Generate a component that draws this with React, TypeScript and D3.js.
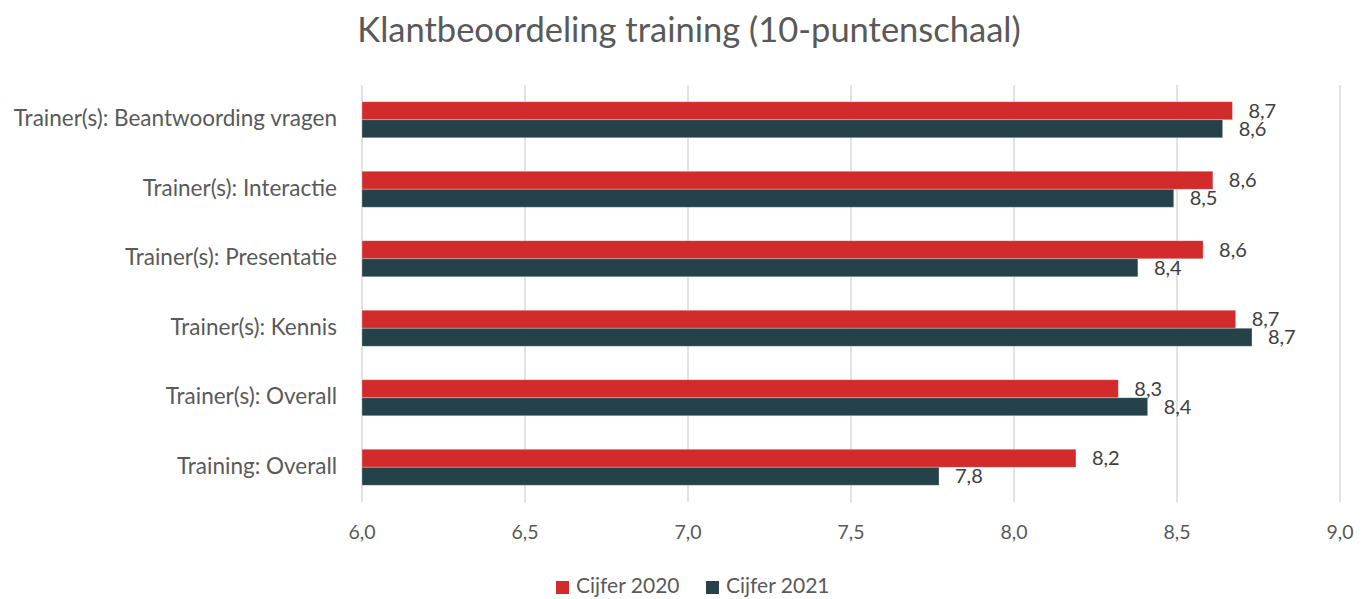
import React from "react";
import * as d3 from "d3";

const categories = [
  "Trainer(s): Beantwoording vragen",
  "Trainer(s): Interactie",
  "Trainer(s): Presentatie",
  "Trainer(s): Kennis",
  "Trainer(s): Overall",
  "Training: Overall",
];
const cijfer2020 = [8.67, 8.61, 8.58, 8.68, 8.32, 8.19];
const cijfer2021 = [8.64, 8.49, 8.38, 8.73, 8.41, 7.77];
const xTicks = [6.0, 6.5, 7.0, 7.5, 8.0, 8.5, 9.0];
const seriesNames = ["Cijfer 2020", "Cijfer 2021"];
const seriesColors = ["#D12B2B", "#25424A"];

const width = 1372;
const height = 599;
const margin = { top: 85, right: 32, bottom: 97, left: 362 };
const font = "Lato, 'Open Sans', sans-serif";
const fmt = (v: number) => v.toFixed(1).replace(".", ",");

export default function App() {
  const x = d3
    .scaleLinear()
    .domain([6, 9])
    .range([margin.left, width - margin.right]);

  const y = d3
    .scaleBand()
    .domain(categories)
    .range([margin.top, height - margin.bottom])
    .paddingInner(0.482)
    .paddingOuter(0.241);

  const inner = d3
    .scaleBand()
    .domain(seriesNames)
    .range([0, y.bandwidth()]);

  const series = [cijfer2020, cijfer2021];

  return (
    <svg
      width={width}
      height={height}
      style={{ position: "absolute", left: 0, top: 0, background: "#fff" }}
      fontFamily={font}
    >
      {/* Title */}
      <text x={689} y={42} textAnchor="middle" fontSize={34.5} fill="#595959">
        Klantbeoordeling training (10-puntenschaal)
      </text>

      {/* Gridlines */}
      {xTicks.map(t => (
        <line
          key={t}
          x1={x(t)}
          x2={x(t)}
          y1={margin.top}
          y2={height - margin.bottom}
          stroke="#D9D9D9"
          strokeWidth={1.5}
        />
      ))}

      {/* Bars */}
      {series.map((vals, si) =>
        categories.map((c, i) => (
          <rect
            key={c + si}
            x={x(6)}
            y={(y(c) ?? 0) + (inner(seriesNames[si]) ?? 0)}
            width={x(vals[i]) - x(6)}
            height={inner.bandwidth()}
            fill={seriesColors[si]}
            stroke="#ffffff"
            strokeOpacity={0.35}
            strokeWidth={0.8}
          />
        ))
      )}

      {/* Data labels */}
      {series.map((vals, si) =>
        categories.map((c, i) => (
          <text
            key={"l" + c + si}
            x={x(vals[i]) + 16}
            y={(y(c) ?? 0) + (inner(seriesNames[si]) ?? 0) + inner.bandwidth() / 2 + 2}
            dominantBaseline="middle"
            fontSize={20}
            fill="#404040"
          >
            {fmt(vals[i])}
          </text>
        ))
      )}

      {/* Category labels */}
      {categories.map(c => (
        <text
          key={"c" + c}
          x={337}
          y={(y(c) ?? 0) + y.bandwidth() / 2 + 1}
          dominantBaseline="middle"
          textAnchor="end"
          fontSize={22.5}
          fill="#595959"
        >
          {c}
        </text>
      ))}

      {/* X axis labels */}
      {xTicks.map(t => (
        <text
          key={"t" + t}
          x={x(t)}
          y={534}
          dominantBaseline="middle"
          textAnchor="middle"
          fontSize={19.5}
          fill="#595959"
        >
          {fmt(t)}
        </text>
      ))}

      {/* Legend */}
      <rect x={556} y={581} width={13} height={13} fill={seriesColors[0]} />
      <text x={576} y={588} dominantBaseline="middle" fontSize={21} fill="#595959">
        {seriesNames[0]}
      </text>
      <rect x={706} y={581} width={13} height={13} fill={seriesColors[1]} />
      <text x={726} y={588} dominantBaseline="middle" fontSize={21} fill="#595959">
        {seriesNames[1]}
      </text>
    </svg>
  );
}
